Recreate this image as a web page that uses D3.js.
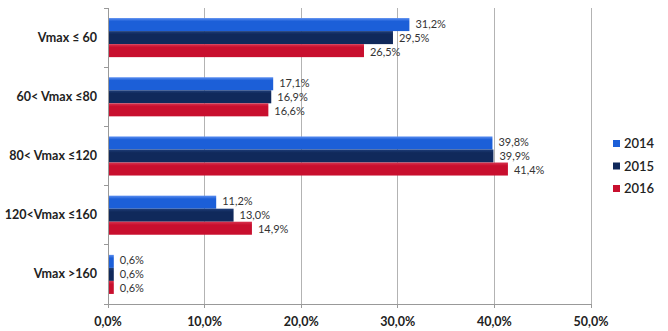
<!DOCTYPE html>
<html><head><meta charset="utf-8">
<script src="https://cdn.jsdelivr.net/npm/d3@7"></script>
<style>body{margin:0;background:#fff}svg{display:block}text{font-family:Lato,"Open Sans",sans-serif}</style>
</head><body><svg id="c" width="668" height="331"></svg>
<script>
const categories = ["Vmax ≤ 60", "60< Vmax ≤80", "80< Vmax ≤120", "120<Vmax ≤160", "Vmax >160"];
const series = ["2014", "2015", "2016"];
const v2014 = [31.2, 17.1, 39.8, 11.2, 0.6];
const v2015 = [29.5, 16.9, 39.9, 13.0, 0.6];
const v2016 = [26.5, 16.6, 41.4, 14.9, 0.6];
const xTicks = [0, 10, 20, 30, 40, 50];
const colors = ["#1c5fd8", "#10295b", "#c80f2e"];
const tops = ["#5b8ef0", "#1e3d78", "#d8344f"];

const values = [v2014, v2015, v2016];
const svg = d3.select("#c");
const m = {l:108, r:591, t:8, b:304};
const x = d3.scaleLinear().domain([0,50]).range([m.l, m.r]);
const y = d3.scaleBand().domain(categories).range([m.t, m.b]).paddingInner(0.34).paddingOuter(0.17);
const yi = d3.scaleBand().domain(series).range([0, y.bandwidth()]);

const defs = svg.append("defs");
series.forEach((s,i)=>{
  const g = defs.append("linearGradient").attr("id","g"+i).attr("x1",0).attr("x2",0).attr("y1",0).attr("y2",1);
  g.append("stop").attr("offset","0%").attr("stop-color",tops[i]);
  g.append("stop").attr("offset","25%").attr("stop-color",colors[i]);
  g.append("stop").attr("offset","100%").attr("stop-color",colors[i]);
});

// grid
svg.append("g").selectAll("line").data(xTicks.slice(1)).join("line")
  .attr("x1",d=>x(d)).attr("x2",d=>x(d)).attr("y1",m.t).attr("y2",m.b)
  .attr("stroke","#b3b3b3").attr("stroke-width",1).attr("shape-rendering","crispEdges");

// bars
categories.forEach((c,ci)=>{
  series.forEach((s,si)=>{
    const val = values[si][ci];
    const yy = y(c)+yi(s);
    svg.append("rect").attr("x",x(0)).attr("y",yy).attr("width",x(val)-x(0)).attr("height",yi.bandwidth())
      .attr("fill","url(#g"+si+")");
    svg.append("text").attr("x",x(val)+6).attr("y",yy+yi.bandwidth()/2+4+ (si-1)*1)
      .attr("font-size",11).attr("fill","#333").text(val.toFixed(1).replace(".",",")+"%");
  });
});

// left axis
const ya = svg.append("g").attr("transform",`translate(${m.l},0)`);
ya.append("line").attr("x1",0).attr("x2",0).attr("y1",m.t).attr("y2",m.b).attr("stroke","#999").attr("shape-rendering","crispEdges");
const bounds = categories.map(c=>y(c)-y.step()*y.paddingInner()/2).concat([m.b]);
bounds[0]=m.t;
ya.selectAll("line.t").data(bounds).join("line").attr("class","t")
  .attr("x1",-4).attr("x2",0).attr("y1",d=>d).attr("y2",d=>d).attr("stroke","#999").attr("shape-rendering","crispEdges");
ya.selectAll("text").data(categories).join("text")
  .attr("x",-11).attr("y",d=>y(d)+y.bandwidth()/2+4).attr("text-anchor","end")
  .attr("font-size",12.5).attr("font-weight","bold").attr("fill","#222").text(d=>d);

// bottom axis
const xa = svg.append("g");
xa.append("line").attr("x1",m.l).attr("x2",m.r).attr("y1",m.b).attr("y2",m.b).attr("stroke","#999").attr("shape-rendering","crispEdges");
xa.selectAll("line.t").data(xTicks).join("line").attr("class","t")
  .attr("x1",d=>x(d)).attr("x2",d=>x(d)).attr("y1",m.b).attr("y2",m.b+4).attr("stroke","#999").attr("shape-rendering","crispEdges");
xa.selectAll("text").data(xTicks).join("text")
  .attr("x",d=>x(d)).attr("y",326).attr("text-anchor","middle")
  .attr("font-size",12.5).attr("font-weight","bold").attr("fill","#222").text(d=>d.toFixed(1).replace(".",",")+"%");

// legend
const lg = svg.append("g");
series.forEach((s,i)=>{
  const ly = 143 + i*22.5;
  lg.append("rect").attr("x",613).attr("y",ly-3).attr("width",7).attr("height",7).attr("fill",colors[i]);
  lg.append("text").attr("x",624).attr("y",ly+5).attr("font-size",13).attr("fill","#222").attr("font-weight","600").text(s);
});
</script></body></html>
